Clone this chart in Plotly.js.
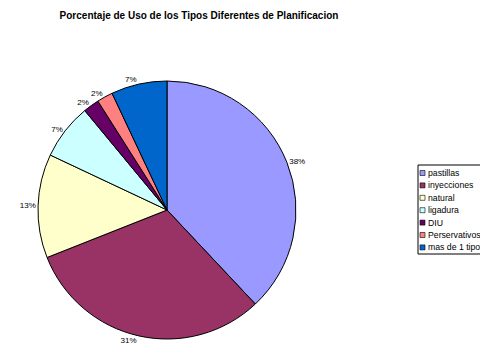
<!DOCTYPE html>
<html>
<head>
<meta charset="utf-8">
<script src="https://cdn.plot.ly/plotly-3.0.1.min.js"></script>
<style>
  html, body { margin: 0; padding: 0; background: #fff; }
  #chart { width: 480px; height: 351px; }
</style>
</head>
<body>
<div id="chart"></div>
<script>
// Métodos de planificación y su porcentaje de uso
const metodos = ['pastillas', 'inyecciones', 'natural', 'ligadura', 'DIU', 'Perservativos', 'mas de 1 tipo'];
const porcentajes = [38, 31, 13, 7, 2, 2, 7];
const colores = ['#9999FF', '#993366', '#FFFFCC', '#CCFFFF', '#660066', '#FF8080', '#0066CC'];

const W = 480, H = 351;
const px = x => x / W;
const py = y => 1 - y / H;

const trace = {
  type: 'pie',
  labels: metodos,
  values: porcentajes,
  sort: false,
  direction: 'clockwise',
  rotation: 0,
  marker: { colors: colores, line: { color: '#000000', width: 1 } },
  textposition: 'outside',
  texttemplate: '%{percent:.0%}',
  textfont: { family: 'Liberation Sans, Arial, sans-serif', size: 8, color: '#000000' },
  outsidetextfont: { family: 'Liberation Sans, Arial, sans-serif', size: 8, color: '#000000' },
  domain: { x: [px(38), px(296)], y: [py(339), py(81)] },
  hoverinfo: 'label+percent',
  showlegend: false
};

// Leyenda compacta: recuadro (abierto por la derecha), muestras de color y nombres
const legX0 = 418, legX1 = 484, legY0 = 165, legY1 = 254;
const filaY0 = 173, filaPaso = 12.4;
const shapes = [{
  type: 'rect', xref: 'paper', yref: 'paper',
  x0: px(legX0), x1: px(legX1), y0: py(legY1), y1: py(legY0),
  line: { color: '#000000', width: 1 }, fillcolor: '#ffffff'
}];
const annotations = [];
metodos.forEach((m, i) => {
  const yc = filaY0 + i * filaPaso;
  shapes.push({
    type: 'rect', xref: 'paper', yref: 'paper',
    x0: px(420), x1: px(425), y0: py(yc + 2.5), y1: py(yc - 2.5),
    line: { color: '#000000', width: 0.6 }, fillcolor: colores[i]
  });
  annotations.push({
    xref: 'paper', yref: 'paper', x: px(425.5), y: py(yc),
    xanchor: 'left', yanchor: 'middle', showarrow: false,
    text: m, font: { family: 'Liberation Sans, Arial, sans-serif', size: 8.7, color: '#000000' }
  });
});

const layout = {
  width: W, height: H,
  margin: { l: 0, r: 0, t: 0, b: 0 },
  paper_bgcolor: '#ffffff',
  showlegend: false,
  title: {
    text: '<b>Porcentaje de Uso de los Tipos Diferentes de Planificacion</b>',
    x: px(199), xanchor: 'center', y: py(15), yanchor: 'middle',
    font: { family: 'Liberation Sans, Arial, sans-serif', size: 10, color: '#000000' }
  },
  shapes: shapes,
  annotations: annotations
};

Plotly.newPlot('chart', [trace], layout, { displayModeBar: false, staticPlot: true });
</script>
</body>
</html>
